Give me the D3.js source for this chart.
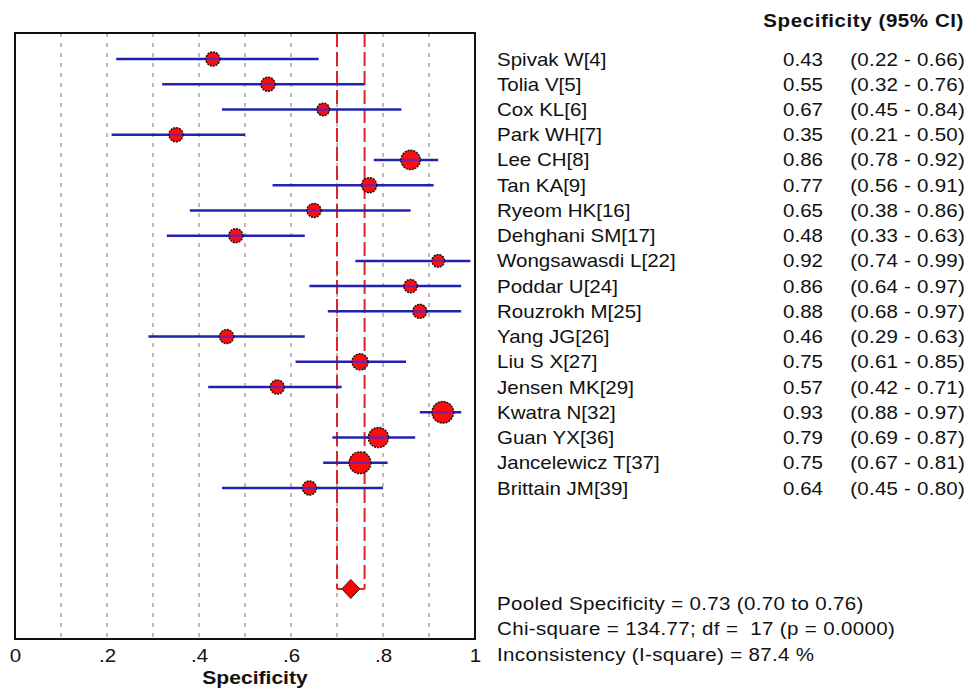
<!DOCTYPE html>
<html>
<head>
<meta charset="utf-8">
<script src="https://cdn.jsdelivr.net/npm/d3@7"></script>
<style>
  html, body { margin: 0; padding: 0; background: #fff; }
  svg { display: block; font-family: "Liberation Sans", Arial, sans-serif; }
  text { white-space: pre; }
</style>
</head>
<body>
<svg id="chart" width="979" height="691"></svg>
<script>
// Study-level specificity estimates with 95% confidence intervals
const studies = ["Spivak W[4]", "Tolia V[5]", "Cox KL[6]", "Park WH[7]", "Lee CH[8]", "Tan KA[9]",
  "Ryeom HK[16]", "Dehghani SM[17]", "Wongsawasdi L[22]", "Poddar U[24]", "Rouzrokh M[25]",
  "Yang JG[26]", "Liu S X[27]", "Jensen MK[29]", "Kwatra N[32]", "Guan YX[36]",
  "Jancelewicz T[37]", "Brittain JM[39]"];
const spec = [0.43, 0.55, 0.67, 0.35, 0.86, 0.77, 0.65, 0.48, 0.92, 0.86, 0.88, 0.46, 0.75, 0.57, 0.93, 0.79, 0.75, 0.64];
const lower = [0.22, 0.32, 0.45, 0.21, 0.78, 0.56, 0.38, 0.33, 0.74, 0.64, 0.68, 0.29, 0.61, 0.42, 0.88, 0.69, 0.67, 0.45];
const upper = [0.66, 0.76, 0.84, 0.50, 0.92, 0.91, 0.86, 0.63, 0.99, 0.97, 0.97, 0.63, 0.85, 0.71, 0.97, 0.87, 0.81, 0.80];
// Relative study weights (marker area)
const weights = [1.0, 1.0, 0.8, 1.0, 1.9, 1.15, 1.0, 1.0, 0.8, 0.9, 1.0, 1.0, 1.3, 1.0, 2.35, 2.05, 2.4, 1.0];

// Pooled estimate and heterogeneity statistics
const pooled = { est: 0.73, lo: 0.70, hi: 0.76 };
const footer = [
  "Pooled Specificity = 0.73 (0.70 to 0.76)",
  "Chi-square = 134.77; df =  17 (p = 0.0000)",
  "Inconsistency (I-square) = 87.4 %"
];
const xTicks = [0, 0.2, 0.4, 0.6, 0.8, 1];
const gridValues = [0.1, 0.2, 0.3, 0.4, 0.5, 0.6, 0.7, 0.8, 0.9];
const header = "Specificity (95% CI)";
const axisTitle = "Specificity";

const svg = d3.select("#chart");
const frame = { left: 15, right: 475, top: 33, bottom: 639 };
const x = d3.scaleLinear().domain([0, 1]).range([frame.left, frame.right]);
const y = d3.scaleLinear().domain([0, 17]).range([59, 488]);
const pooledRow = 21;
const r = d3.scaleSqrt().domain([0, 1]).range([0, 7]);
const stretch = 1.14;
const fmt = d3.format(".2f");

// Vertical reference grid
svg.append("g").selectAll("line").data(gridValues).join("line")
  .attr("x1", d => x(d)).attr("x2", d => x(d))
  .attr("y1", frame.top).attr("y2", frame.bottom)
  .attr("stroke", "#a8a8a8").attr("stroke-width", 1.5)
  .attr("stroke-dasharray", "4,6");

// Pooled CI bracket
const bracket = svg.append("g");
[pooled.lo, pooled.hi].forEach(v => {
  bracket.append("line")
    .attr("x1", x(v)).attr("x2", x(v))
    .attr("y1", frame.top).attr("y2", y(pooledRow))
    .attr("stroke", "#dc2626").attr("stroke-width", 2)
    .attr("stroke-dasharray", "14,5");
});
bracket.append("line")
  .attr("x1", x(pooled.lo)).attr("x2", x(pooled.hi))
  .attr("y1", y(pooledRow)).attr("y2", y(pooledRow))
  .attr("stroke", "#dc2626").attr("stroke-width", 2);

// Study rows
const rows = svg.append("g").selectAll("g").data(studies.map((s, i) => i)).join("g");
rows.append("line")
  .attr("x1", i => x(lower[i])).attr("x2", i => x(upper[i]))
  .attr("y1", i => y(i)).attr("y2", i => y(i))
  .attr("stroke", "#2222b0").attr("stroke-width", 2.5);
rows.append("circle")
  .attr("cx", i => x(spec[i])).attr("cy", i => y(i))
  .attr("r", i => r(weights[i]))
  .attr("fill", "#ff0d0d").attr("stroke", "#111").attr("stroke-width", 1.5)
  .attr("stroke-dasharray", "2,1");
rows.append("line")
  .attr("x1", i => x(spec[i]) - r(weights[i]) + 1).attr("x2", i => x(spec[i]) + r(weights[i]) - 1)
  .attr("y1", i => y(i)).attr("y2", i => y(i))
  .attr("stroke", "#7a1fa8").attr("stroke-width", 2.5);

// Pooled diamond
const dx = x(pooled.est), dy = y(pooledRow);
svg.append("path")
  .attr("d", `M${dx - 9},${dy} L${dx},${dy - 9.5} L${dx + 9},${dy} L${dx},${dy + 9.5} Z`)
  .attr("fill", "#ff0000").attr("stroke", "#222").attr("stroke-width", 1);

// Plot frame
svg.append("rect")
  .attr("x", frame.left).attr("y", frame.top)
  .attr("width", frame.right - frame.left).attr("height", frame.bottom - frame.top)
  .attr("fill", "none").attr("stroke", "#111").attr("stroke-width", 2);

// X axis
const axis = d3.axisBottom(x).tickValues(xTicks).tickSize(0)
  .tickFormat(d => d === 0 ? "0" : d === 1 ? "1" : d3.format(".1f")(d).replace(/^0/, ""));
const ax = svg.append("g").attr("transform", `translate(0,${frame.bottom})`).call(axis);
ax.select(".domain").remove();
ax.selectAll("text")
  .attr("y", 0).attr("dy", null)
  .attr("transform", `translate(0,23) scale(${stretch},1)`)
  .attr("font-size", 18).attr("fill", "#111")
  .attr("font-family", "'Liberation Sans', Arial, sans-serif");

function label(txt, px, py, anchor, size, opts) {
  const o = opts || {};
  svg.append("text")
    .attr("transform", `translate(${px},${py}) scale(${stretch},1)`)
    .attr("text-anchor", anchor)
    .attr("font-size", size).attr("font-weight", o.weight || "normal")
    .attr("letter-spacing", o.ls || 0)
    .attr("fill", "#111")
    .text(txt);
}

label(axisTitle, 255, 684, "middle", 18.5, { weight: "bold" });
label(header, 964, 27, "end", 18, { weight: "bold", ls: 0.5 });

studies.forEach((s, i) => {
  const by = y(i) + 6.5;
  label(s, 497, by, "start", 18);
  label(fmt(spec[i]), 823, by, "end", 18);
  label(`(${fmt(lower[i])} - ${fmt(upper[i])})`, 965, by, "end", 18, { ls: 0.2 });
});

footer.forEach((t, i) => label(t, 497, 609.5 + i * 25.5, "start", 18, { ls: 0.3 }));
</script>
</body>
</html>
